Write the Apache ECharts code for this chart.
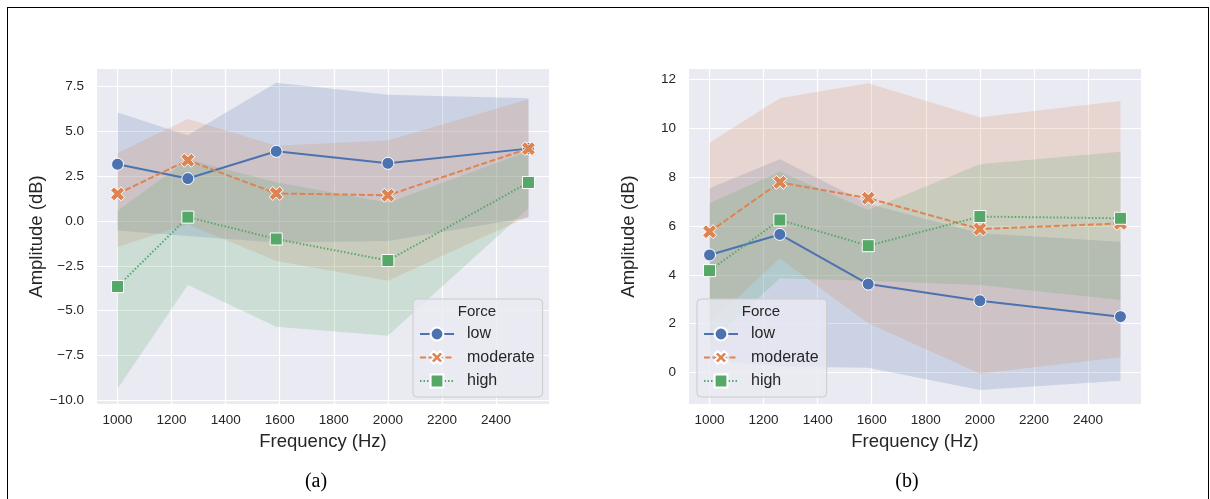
<!DOCTYPE html>
<html><head><meta charset="utf-8">
<script src="https://cdn.jsdelivr.net/npm/echarts@6/dist/echarts.min.js"></script>
<style>
html,body{margin:0;padding:0;background:#fff;overflow:hidden;}
#frame{position:absolute;left:7px;top:7px;width:1200px;height:600px;border:1px solid #000;}
#c{position:absolute;left:0;top:0;width:1210px;height:499px;}
</style></head><body><div id="frame"></div><div id="c"></div>
<script>
// ---------- data ----------
const freqs = [1000, 1260, 1587, 2000, 2520];
const xTicks = [1000, 1200, 1400, 1600, 1800, 2000, 2200, 2400];
const yTicksA = [-10, -7.5, -5, -2.5, 0, 2.5, 5, 7.5];
const yTicksB = [0, 2, 4, 6, 8, 10, 12];
const forceLevels = ['low', 'moderate', 'high'];

// panel (a)
const aLow = [3.17, 2.37, 3.89, 3.22, 4.04];
const aLowLo = [-0.52, -0.83, -1.2, -1.11, 0.2];
const aLowHi = [6.06, 4.78, 7.72, 7.04, 6.85];
const aMod = [1.52, 3.39, 1.54, 1.44, 4.04];
const aModLo = [-1.44, -0.18, -2.22, -3.33, 0.25];
const aModHi = [3.8, 5.69, 4.2, 4.5, 6.8];
const aHigh = [-3.65, 0.22, -1.0, -2.2, 2.15];
const aHighLo = [-9.35, -3.57, -5.89, -6.39, 0.72];
const aHighHi = [0.58, 3.43, 2.17, 1.02, 3.9];

// panel (b)
const bLow = [4.81, 5.65, 3.62, 2.94, 2.29];
const bLowLo = [0.5, 0.25, 0.2, -0.71, -0.33];
const bLowHi = [7.54, 8.72, 6.9, 5.7, 5.35];
const bMod = [5.76, 7.78, 7.13, 5.87, 6.1];
const bModLo = [2.0, 4.67, 2.02, -0.03, 0.63];
const bModHi = [9.4, 11.21, 11.83, 10.44, 11.1];
const bHigh = [4.17, 6.24, 5.19, 6.38, 6.31];
const bHighLo = [1.2, 3.86, 3.76, 3.58, 2.97];
const bHighHi = [6.92, 8.21, 6.65, 8.52, 9.03];

// ---------- styling ----------
const colors = ['#4C72B0', '#DD8452', '#55A868'];
const bandColors = ['rgba(76,114,176,0.2)', 'rgba(221,132,82,0.2)', 'rgba(85,168,104,0.2)'];
const FONT = '"Liberation Sans", Arial, sans-serif';
const TXT = '#262626';
const xMark = 'path://M-0.25,-0.5 L0,-0.25 L0.25,-0.5 L0.5,-0.25 L0.25,0 L0.5,0.25 L0.25,0.5 L0,0.25 L-0.25,0.5 L-0.5,0.25 L-0.25,0 L-0.5,-0.25 Z';
const symbols = ['circle', xMark, 'rect'];
const symSizes = [12, 14, 12];
const dashes = ['solid', [6, 2.5], [1.5, 2]];

function bandSeries(gi, lo, hi, k) {
  return {
    type: 'custom', xAxisIndex: gi, yAxisIndex: gi, z: 1, silent: true, clip: true,
    data: freqs.map((x, i) => [x, lo[i], hi[i]]),
    encode: { x: 0, y: [1, 2] },
    renderItem: function (params, api) {
      if (params.dataIndex !== 0) return null;
      const pts = [];
      for (let i = 0; i < freqs.length; i++) pts.push(api.coord([freqs[i], hi[i]]));
      for (let i = freqs.length - 1; i >= 0; i--) pts.push(api.coord([freqs[i], lo[i]]));
      return { type: 'polygon', shape: { points: pts }, style: { fill: bandColors[k], stroke: null } };
    }
  };
}
function lineSeries(gi, ys, k) {
  return {
    type: 'line', name: forceLevels[k], xAxisIndex: gi, yAxisIndex: gi, z: 3 + k,
    data: freqs.map((x, i) => [x, ys[i]]),
    symbol: symbols[k], symbolSize: symSizes[k], showSymbol: true,
    lineStyle: { color: colors[k], width: 2, type: dashes[k] },
    itemStyle: { color: colors[k], borderColor: '#ffffff', borderWidth: 1 },
    emphasis: { disabled: true }
  };
}
function xAxisCfg(gi) {
  return {
    type: 'value', gridIndex: gi, min: 924, max: 2596,
    axisLine: { show: false }, axisTick: { show: false, customValues: xTicks },
    axisLabel: { customValues: xTicks, color: TXT, fontSize: 13.5, fontFamily: FONT, margin: 9, formatter: v => String(v) },
    splitLine: { show: true, lineStyle: { color: '#ffffff', width: 1.2 } },
    name: 'Frequency (Hz)', nameLocation: 'middle', nameGap: 28,
    nameTextStyle: { color: TXT, fontSize: 18.5, fontFamily: FONT }
  };
}
function yAxisCfg(gi, min, max, ticks, fmt) {
  return {
    type: 'value', gridIndex: gi, min: min, max: max,
    axisLine: { show: false }, axisTick: { show: false, customValues: ticks },
    axisLabel: { customValues: ticks, color: TXT, fontSize: 13.5, fontFamily: FONT, margin: 13, formatter: fmt },
    splitLine: { show: true, lineStyle: { color: '#ffffff', width: 1.2 } },
    name: 'Amplitude (dB)', nameLocation: 'middle', nameGap: 51,
    nameTextStyle: { color: TXT, fontSize: 18.5, fontFamily: FONT }
  };
}
function legendCfg(left) {
  return {
    left: left, top: 299, orient: 'vertical', selectedMode: false,
    data: forceLevels,
    itemWidth: 34, itemHeight: 16, itemGap: 7.5,
    padding: [27, 8, 8, 6],
    backgroundColor: 'rgba(234,234,242,0.8)', borderColor: '#cccccc', borderWidth: 1, borderRadius: 4,
    textStyle: { color: TXT, fontSize: 16, fontFamily: FONT, lineHeight: 16, padding: [0, 0, 0, 8] }
  };
}

const chart = echarts.init(document.getElementById('c'), null, { renderer: 'canvas' });
chart.setOption({
  animation: false,
  backgroundColor: 'transparent',
  grid: [
    { left: 97, top: 69, width: 452, height: 335, show: true, backgroundColor: '#EAEAF2', borderWidth: 0 },
    { left: 689, top: 69, width: 452, height: 335, show: true, backgroundColor: '#EAEAF2', borderWidth: 0 }
  ],
  xAxis: [xAxisCfg(0), xAxisCfg(1)],
  yAxis: [
    yAxisCfg(0, -10.2, 8.48, yTicksA, v => v.toFixed(1).replace('-', '\u2212')),
    yAxisCfg(1, -1.28, 12.41, yTicksB, v => String(v))
  ],
  legend: [legendCfg(413), legendCfg(697)],
  graphic: [
    { type: 'text', x: 477, y: 312, z: 100, style: { text: 'Force', fill: TXT, font: '15px ' + FONT, textAlign: 'center', textVerticalAlign: 'middle' } },
    { type: 'text', x: 761, y: 312, z: 100, style: { text: 'Force', fill: TXT, font: '15px ' + FONT, textAlign: 'center', textVerticalAlign: 'middle' } },
    { type: 'text', x: 316, y: 482, z: 100, style: { text: '(a)', fill: '#000', font: '20px "Liberation Serif", "Times New Roman", serif', textAlign: 'center', textVerticalAlign: 'middle' } },
    { type: 'text', x: 907, y: 482, z: 100, style: { text: '(b)', fill: '#000', font: '20px "Liberation Serif", "Times New Roman", serif', textAlign: 'center', textVerticalAlign: 'middle' } }
  ],
  series: [
    bandSeries(0, aLowLo, aLowHi, 0), bandSeries(0, aModLo, aModHi, 1), bandSeries(0, aHighLo, aHighHi, 2),
    lineSeries(0, aLow, 0), lineSeries(0, aMod, 1), lineSeries(0, aHigh, 2),
    bandSeries(1, bLowLo, bLowHi, 0), bandSeries(1, bModLo, bModHi, 1), bandSeries(1, bHighLo, bHighHi, 2),
    lineSeries(1, bLow, 0), lineSeries(1, bMod, 1), lineSeries(1, bHigh, 2)
  ]
});
</script></body></html>
